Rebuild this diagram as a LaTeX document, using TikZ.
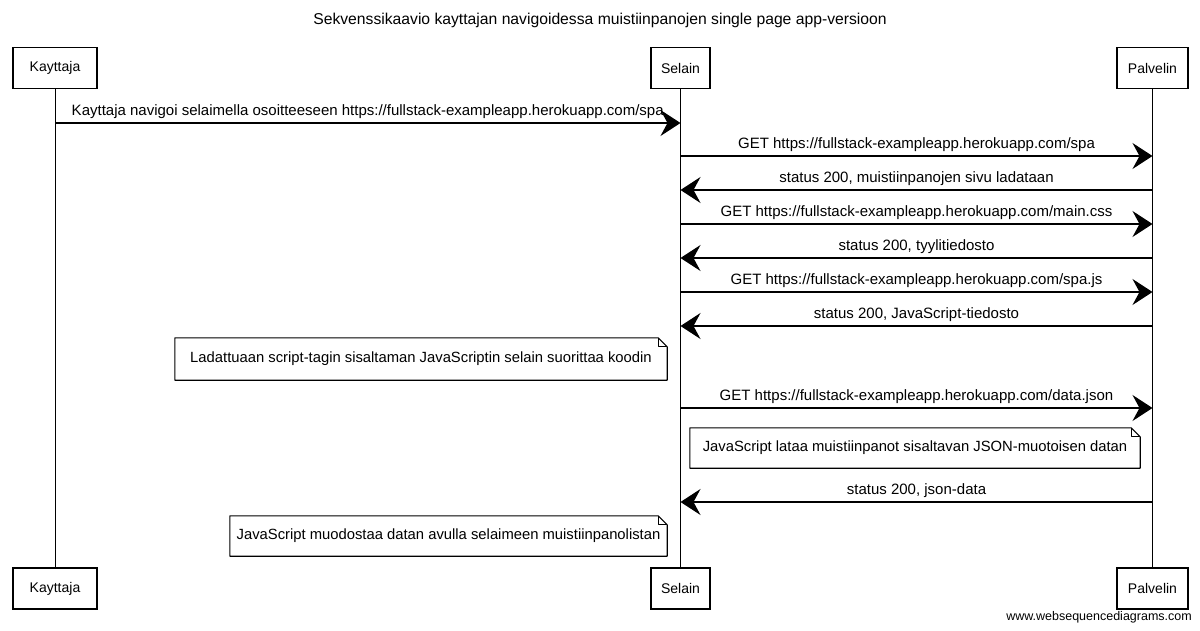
\documentclass[tikz,border=0pt]{standalone}
\usepackage{fontspec}
\setmainfont{Liberation Sans}
\usetikzlibrary{arrows.meta}
\begin{document}
\begin{tikzpicture}[x=1pt,y=-1pt,
  lbl/.style={font=\fontsize{15}{17}\selectfont, inner sep=0pt},
  actor/.style={draw, line width=1.3pt, minimum height=41pt, inner sep=0pt, font=\fontsize{14}{16}\selectfont},
  msg/.style={line width=1.2pt, -{Stealth[length=20pt,width=26pt,inset=7pt]}},
  life/.style={line width=1pt},
  notebox/.style={line width=1.1pt, line join=round},
  notetext/.style={inner sep=0pt, font=\fontsize{14.8}{17}\selectfont},
]
\useasboundingbox (0,0) rectangle (1200,631);

% title
\node[font=\fontsize{15.7}{18}\selectfont] (title) at (600,20) {Sekvenssikaavio kayttajan navigoidessa muistiinpanojen single page app-versioon};

% participants
\node[actor, minimum width=84pt] (kt) at (55,68) {Kayttaja};
\node[actor, minimum width=59pt] (st) at (680.5,68) {Selain};
\node[actor, minimum width=71pt] (pt) at (1152.5,68) {Palvelin};
\node[actor, minimum width=84pt] (kb) at (55,588.5) {Kayttaja};
\node[actor, minimum width=59pt] (sb) at (680.5,588.5) {Selain};
\node[actor, minimum width=71pt] (pb) at (1152.5,588.5) {Palvelin};

% lifelines
\draw[life] (kt.south) -- (kb.north);
\draw[life] (st.south) -- (sb.north);
\draw[life] (pt.south) -- (pb.north);

% message levels
\coordinate (y1) at (0,123);
\coordinate (y2) at (0,156);
\coordinate (y3) at (0,190);
\coordinate (y4) at (0,224);
\coordinate (y5) at (0,258);
\coordinate (y6) at (0,292);
\coordinate (y7) at (0,326);
\coordinate (y9) at (0,408);
\coordinate (y11) at (0,502);

\draw[msg] (kt |- y1) -- node[lbl, above=4pt] {Kayttaja navigoi selaimella osoitteeseen https://fullstack-exampleapp.herokuapp.com/spa} (st |- y1);
\draw[msg] (st |- y2) -- node[lbl, above=4pt] {GET https://fullstack-exampleapp.herokuapp.com/spa} (pt |- y2);
\draw[msg] (pt |- y3) -- node[lbl, above=4pt] {status 200, muistiinpanojen sivu ladataan} (st |- y3);
\draw[msg] (st |- y4) -- node[lbl, above=4pt] {GET https://fullstack-exampleapp.herokuapp.com/main.css} (pt |- y4);
\draw[msg] (pt |- y5) -- node[lbl, above=4pt] {status 200, tyylitiedosto} (st |- y5);
\draw[msg] (st |- y6) -- node[lbl, above=4pt] {GET https://fullstack-exampleapp.herokuapp.com/spa.js} (pt |- y6);
\draw[msg] (pt |- y7) -- node[lbl, above=4pt] {status 200, JavaScript-tiedosto} (st |- y7);
\draw[msg] (st |- y9) -- node[lbl, above=4pt] {GET https://fullstack-exampleapp.herokuapp.com/data.json} (pt |- y9);
\draw[msg] (pt |- y11) -- node[lbl, above=4pt] {status 200, json-data} (st |- y11);

% notes
\node[notetext, minimum width=492pt, minimum height=42pt] (n1) at (421,359) {Ladattuaan script-tagin sisaltaman JavaScriptin selain suorittaa koodin};
\node[notetext, minimum width=450pt, minimum height=40pt] (n2) at (915,448) {JavaScript lataa muistiinpanot sisaltavan JSON-muotoisen datan};
\node[notetext, minimum width=437pt, minimum height=40pt] (n3) at (448.5,536) {JavaScript muodostaa datan avulla selaimeen muistiinpanolistan};
\foreach \n in {n1,n2,n3}{
  \draw[notebox] (\n.north west) -- ([xshift=-9pt]\n.north east) -- ([yshift=-9pt]\n.north east) -- (\n.south east) -- (\n.south west) -- cycle;
  \draw[notebox] ([xshift=-9pt]\n.north east) -- ([xshift=-9pt,yshift=-9pt]\n.north east) -- ([yshift=-9pt]\n.north east);
}

% watermark
\node[font=\fontsize{12.5}{14}\selectfont, anchor=east, inner sep=0pt] (wm) at (1192,617) {www.websequencediagrams.com};
\end{tikzpicture}
\end{document}
